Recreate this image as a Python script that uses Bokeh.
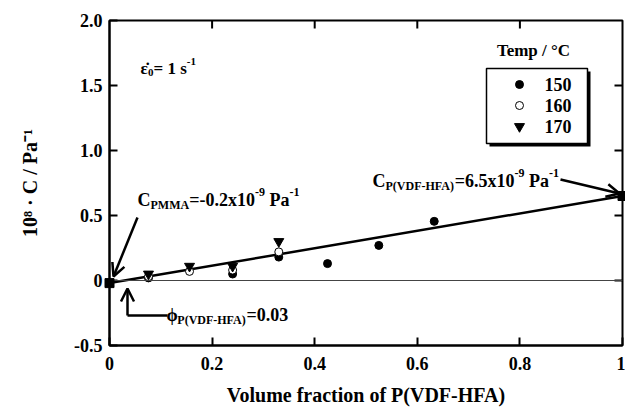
from bokeh.plotting import figure
from bokeh.models import Range1d, FixedTicker, Span, Arrow, OpenHead, Label
from bokeh.core.properties import value
from bokeh.embed import file_html
from bokeh.resources import INLINE

# ---------------- data ----------------
temps = ["150", "160", "170"]
x150 = [0.076, 0.240, 0.330, 0.425, 0.525, 0.633]
y150 = [0.020, 0.050, 0.180, 0.130, 0.270, 0.455]
x160 = [0.076, 0.156, 0.240, 0.330]
y160 = [0.030, 0.070, 0.080, 0.220]
x170 = [0.076, 0.156, 0.240, 0.330]
y170 = [0.050, 0.110, 0.110, 0.300]
# pure components (PMMA at 0, P(VDF-HFA) at 1) and additivity line
pure_x = [0.0, 1.0]
pure_y = [-0.02, 0.65]

x_ticks = [0, 0.2, 0.4, 0.6, 0.8, 1.0]
x_tick_labels = ["0", "0.2", "0.4", "0.6", "0.8", "1"]
y_ticks = [-0.5, 0, 0.5, 1.0, 1.5, 2.0]
y_tick_labels = ["-0.5", "0", "0.5", "1.0", "1.5", "2.0"]

SERIF = "Liberation Serif"
W, H = 625, 410
BL, BR, BT, BB = 109, 3, 20, 65

p = figure(width=W, height=H, x_range=Range1d(0, 1), y_range=Range1d(-0.5, 2.0),
           output_backend="svg", toolbar_location=None,
           min_border_left=BL, min_border_right=BR, min_border_top=BT, min_border_bottom=BB,
           background_fill_color="white", border_fill_color="white")
p.grid.visible = False
p.outline_line_color = "black"
p.outline_line_width = 2


def style_axis(ax, ticks, labels):
    ax.ticker = FixedTicker(ticks=ticks)
    ax.major_label_overrides = {t: l for t, l in zip(ticks, labels)}
    ax.axis_line_width = 2
    ax.axis_line_color = "black"
    ax.major_tick_in = 8
    ax.major_tick_out = 0
    ax.major_tick_line_width = 2
    ax.minor_tick_line_color = None
    ax.major_label_text_font = SERIF
    ax.major_label_text_font_style = "bold"
    ax.major_label_text_color = "black"
    ax.major_label_text_font_size = "18px"
    ax.axis_label_text_font = SERIF
    ax.axis_label_text_font_style = "bold"
    ax.axis_label_text_font_size = "20px"
    ax.axis_label_text_color = "black"


style_axis(p.xaxis[0], x_ticks, x_tick_labels)
style_axis(p.yaxis[0], y_ticks, y_tick_labels)
p.xaxis[0].axis_label = "Volume fraction of P(VDF-HFA)"
p.xaxis[0].major_label_standoff = 11
p.xaxis[0].axis_label_standoff = 11
p.yaxis[0].axis_label = "10⁸ · C / Pa⁻¹"
p.yaxis[0].major_label_standoff = 7
p.yaxis[0].axis_label_standoff = 30

FW = W - BL - BR
FH = H - BT - BB
PXX = 1.0 / FW          # one screen pixel in x data units
PXY = 2.5 / FH          # one screen pixel in y data units

# inward ticks on the top and right frame edges
inner_x = x_ticks[1:-1]
inner_y = y_ticks[1:-1]
p.segment(x0=inner_x, x1=inner_x, y0=[y_ticks[-1]] * len(inner_x),
          y1=[y_ticks[-1] - 8 * PXY] * len(inner_x), line_width=2, line_color="black")
p.segment(x0=[x_ticks[-1]] * len(inner_y), x1=[x_ticks[-1] - 8 * PXX] * len(inner_y),
          y0=inner_y, y1=inner_y, line_width=2, line_color="black")

# zero line
p.add_layout(Span(location=0, dimension="width", line_color="#444444", line_width=1))


# reference pixel -> data helpers (annotation placement only)
def X(px):
    return (px - BL) / FW


def Y(py):
    return 2.0 - (py - BT) * PXY


# ---------------- legend (box with drop shadow) ----------------
lg_l, lg_r, lg_t, lg_b = X(486), X(587), Y(68), Y(143)
p.quad(left=[lg_l + 3 * PXX], right=[lg_r + 3 * PXX], top=[lg_t - 3 * PXY],
       bottom=[lg_b - 3 * PXY], fill_color="black", line_color=None)
p.quad(left=[lg_l], right=[lg_r], top=[lg_t], bottom=[lg_b],
       fill_color="white", line_color="black", line_width=1.5)

styles = {
    "150": dict(marker="circle", size=8, fill_color="black", line_color="black", line_width=1),
    "160": dict(marker="circle", size=8, fill_color="white", line_color="black", line_width=1),
    "170": dict(marker="inverted_triangle", size=10, fill_color="black", line_color="black",
                line_width=1),
}

# additivity line and pure components (squares drawn unclipped, over the frame edges)
p.line(pure_x, pure_y, line_color="black", line_width=2.5)
p.scatter(pure_x, pure_y, marker="square", size=9, fill_color="black", line_color="black",
          level="overlay")

series = {"150": (x150, y150), "160": (x160, y160), "170": (x170, y170)}
for t in temps:
    xs, ys = series[t]
    p.scatter(xs, ys, **styles[t])

for i, t in enumerate(temps):
    yrow = lg_t - (16 + 21 * i) * PXY
    p.scatter([lg_l + 33 * PXX], [yrow], **styles[t])
    p.text(x=[lg_l + 58 * PXX], y=[yrow], text=[t], text_font=value(SERIF),
           text_font_style="bold", text_font_size="18px", text_baseline="middle",
           text_align="left", text_color="black")

p.add_layout(Label(x=X(533), y=Y(50), text="Temp / °C", text_align="center",
                   text_baseline="middle", text_font=SERIF, text_font_style="bold",
                   text_font_size="17px", text_color="black"))

# ---------- rich text helper ----------
AFM = {' ': 250, '(': 333, ')': 333, '-': 333, '.': 250, '=': 570, 'A': 722, 'C': 722,
       'D': 722, 'F': 611, 'H': 778, 'M': 944, 'P': 611, 'V': 722, 'a': 500, 's': 389,
       'x': 500, 'ε': 440, 'ϕ': 600, '\u0307': 0}


def tw(txt, size):
    return sum(AFM.get(c, 500) for c in txt) * size / 1000.0


def rich(px, py, runs):
    off = 0.0
    for txt, size, dy in runs:
        stripped = txt.lstrip(" ")
        off += tw(txt[:len(txt) - len(stripped)], size)
        p.text(x=[X(px)], y=[Y(py)], text=[stripped], x_offset=off, y_offset=dy,
               text_font=value(SERIF), text_font_style="bold",
               text_font_size=f"{size}px", text_baseline="alphabetic",
               text_align="left", text_color="black")
        off += tw(stripped, size)


rich(140, 68, [("ε\u0307", 17, 0), ("0", 11, 4), ("= 1 s", 17, 0), ("-1", 11, -7)])
rich(137, 199, [("C", 18, 0), ("PMMA", 12, 5), ("=-0.2x10", 18, 0), ("-9", 12, -8),
                (" Pa", 18, 0), ("-1", 12, -8)])
rich(372, 180, [("C", 18, 0), ("P(VDF-HFA)", 12, 5), ("=6.5x10", 18, 0), ("-9", 12, -8),
                (" Pa", 18, 0), ("-1", 12, -8)])
rich(166, 314, [("ϕ", 18, 0), ("P(VDF-HFA)", 12, 5), ("=0.03", 18, 0)])


# ---------- arrows ----------
def arrow(x0, y0, x1, y1):
    p.add_layout(Arrow(end=OpenHead(size=13, line_width=2.5, line_color="black"),
                       x_start=X(x0), y_start=Y(y0), x_end=X(x1), y_end=Y(y1),
                       line_width=2.5, line_color="black"))


arrow(137, 217, 113, 276)
arrow(560, 179, 619, 193)
p.line([X(167), X(127)], [Y(315), Y(315)], line_color="black", line_width=2.5)
arrow(127, 315, 127, 288)

open("out.html", "w").write(file_html(p, INLINE))
